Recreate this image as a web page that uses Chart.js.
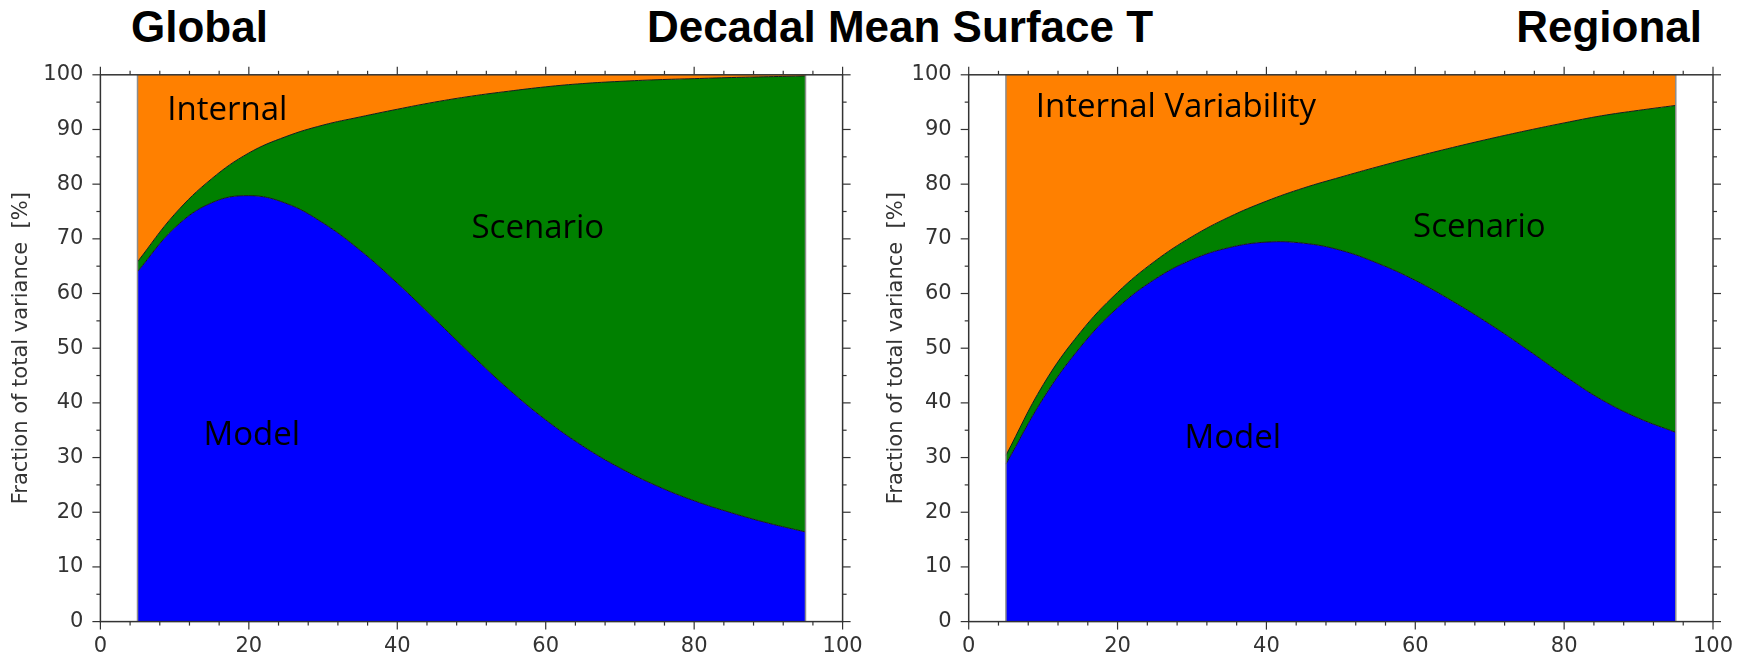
<!DOCTYPE html>
<html><head><meta charset="utf-8">
<script src="https://cdn.jsdelivr.net/npm/chart.js@4.4.1/dist/chart.umd.min.js"></script>
<style>
html,body{margin:0;padding:0;background:#fff;width:1750px;height:658px;overflow:hidden;position:relative;}
canvas{position:absolute;top:0;}
.ttl{position:absolute;font-family:"Liberation Sans",Arial,sans-serif;font-weight:bold;font-size:44px;line-height:44px;color:#000;white-space:nowrap;}
</style></head><body>
<div class="ttl" style="left:131px;top:5px">Global</div>
<div class="ttl" style="left:900px;top:5px;transform:translateX(-50%)">Decadal Mean Surface T</div>
<div class="ttl" style="right:48px;top:5px">Regional</div>
<canvas id="cGlobal" width="875" height="658" style="left:0"></canvas>
<canvas id="cRegional" width="875" height="658" style="left:875px"></canvas>
<script>
// lead time (years) at which the fractions are given
const leadTime = [5,10,15,20,25,30,35,40,45,50,55,60,65,70,75,80,85,90,95];

// Global: fraction of total variance [%]
const globalModel    = [64.0,72.0,76.6,77.9,76.5,72.9,67.9,61.9,55.4,48.8,42.5,36.9,32.1,28.1,24.8,22.1,19.9,18.0,16.4];
const globalScenario = [1.8,2.5,4.4,7.8,12.2,17.9,24.4,31.8,39.6,47.3,54.5,60.9,66.3,70.7,74.3,77.2,79.6,81.65,83.4];
const globalInternal = [34.2,25.5,19.0,14.3,11.3,9.2,7.7,6.3,5.0,3.9,3.0,2.2,1.6,1.2,0.9,0.7,0.5,0.35,0.2];

// Regional: fraction of total variance [%]
const regionalModel    = [28.8,40.8,50.2,57.4,62.6,66.2,68.4,69.4,69.2,67.9,65.5,62.4,58.6,54.4,49.8,45.0,40.6,37.2,34.6];
const regionalScenario = [1.6,2.5,2.7,2.8,3.3,4.2,5.6,7.5,10.1,13.4,17.7,22.6,28.1,33.9,40.0,46.2,51.9,56.3,59.8];
const regionalInternal = [69.6,56.7,47.1,39.8,34.1,29.6,26.0,23.1,20.7,18.7,16.8,15.0,13.3,11.7,10.2,8.8,7.5,6.5,5.6];

// tick labels
const xTickValues = [0,20,40,60,80,100];
const yTickValues = [0,10,20,30,40,50,60,70,80,90,100];

const seriesNames  = ['Model','Scenario','Internal'];
const seriesColors = ['#0000ff','#008000','#ff8000'];

const framePlugin = {
  id: 'frame',
  afterDatasetsDraw(chart, args, opts) {
    const {ctx, chartArea: a, scales: {x, y}} = chart;
    const line = (x1, y1, x2, y2) => { ctx.beginPath(); ctx.moveTo(x1, y1); ctx.lineTo(x2, y2); ctx.stroke(); };
    ctx.save();
    ctx.strokeStyle = '#8c8c8c'; ctx.lineWidth = 1.5;
    [leadTime[0], leadTime[leadTime.length - 1]].forEach(v => {
      const px = x.getPixelForValue(v);
      line(px, y.getPixelForValue(0), px, y.getPixelForValue(100));
    });
    ctx.fillStyle = '#000';
    ctx.font = '33px "Open Sans"';
    ctx.textBaseline = 'middle'; ctx.textAlign = 'left';
    (opts.labels || []).forEach(l => ctx.fillText(l.text, x.getPixelForValue(l.x), y.getPixelForValue(l.y)));
    ctx.strokeStyle = '#333'; ctx.lineWidth = 1.5;
    ctx.strokeRect(a.left, a.top, a.width, a.height);
    ctx.lineWidth = 1.2;
    for (let v = 0; v <= 100; v += 4) {
      const len = v % 20 === 0 ? 8 : 4; const px = x.getPixelForValue(v);
      line(px, a.bottom, px, a.bottom + len); line(px, a.top, px, a.top - len);
    }
    for (let v = 0; v <= 100; v += 5) {
      const len = v % 10 === 0 ? 8 : 4; const py = y.getPixelForValue(v);
      line(a.left - len, py, a.left, py); line(a.right, py, a.right + len, py);
    }
    ctx.restore();
  }
};

function makeChart(id, series, labels, yWidth, padRight) {
  const datasets = series.map((arr, i) => ({
    label: seriesNames[i],
    data: leadTime.map((t, k) => ({x: t, y: arr[k]})),
    backgroundColor: seriesColors[i],
    borderColor: i === 2 ? 'rgba(0,0,0,0)' : '#1a1a1a',
    borderWidth: i === 2 ? 0 : 1,
    pointRadius: 0,
    fill: i === 0 ? 'origin' : '-1',
    tension: 0.4
  }));
  return new Chart(document.getElementById(id), {
    type: 'line',
    data: {datasets},
    plugins: [framePlugin],
    options: {
      responsive: false, animation: false, devicePixelRatio: 1,
      layout: {padding: {left: 0, right: padRight, top: 74.8, bottom: 0.4}},
      plugins: {legend: {display: false}, tooltip: {enabled: false}, frame: {labels}},
      scales: {
        x: {
          type: 'linear', min: 0, max: 100,
          grid: {display: false, drawTicks: false}, border: {display: false},
          afterBuildTicks: s => { s.ticks = xTickValues.map(v => ({value: v})); },
          afterFit: s => { s.height = 36; },
          ticks: {padding: 12, color: '#333', font: {family: 'DejaVu Sans', size: 21}, maxRotation: 0}
        },
        y: {
          stacked: true, min: 0, max: 100,
          grid: {display: false, drawTicks: false}, border: {display: false},
          afterBuildTicks: s => { s.ticks = yTickValues.map(v => ({value: v})); },
          afterFit: s => { s.width = yWidth; },
          ticks: {padding: 17, color: '#333', font: {family: 'DejaVu Sans', size: 21}},
          title: {display: true, text: 'Fraction of total variance  [%]', color: '#333',
                  font: {family: 'DejaVu Sans', size: 21}, padding: {top: 9, bottom: 0}}
        }
      }
    }
  });
}

makeChart('cGlobal', [globalModel, globalScenario, globalInternal], [
  {text: 'Internal', x: 9.0, y: 93.5},
  {text: 'Scenario', x: 50.0, y: 71.9},
  {text: 'Model', x: 13.9, y: 34.0}
], 100.4, 32.4);

makeChart('cRegional', [regionalModel, regionalScenario, regionalInternal], [
  {text: 'Internal Variability', x: 9.0, y: 94.0},
  {text: 'Scenario', x: 59.7, y: 72.1},
  {text: 'Model', x: 29.0, y: 33.4}
], 93.7, 37);
</script>
</body></html>
